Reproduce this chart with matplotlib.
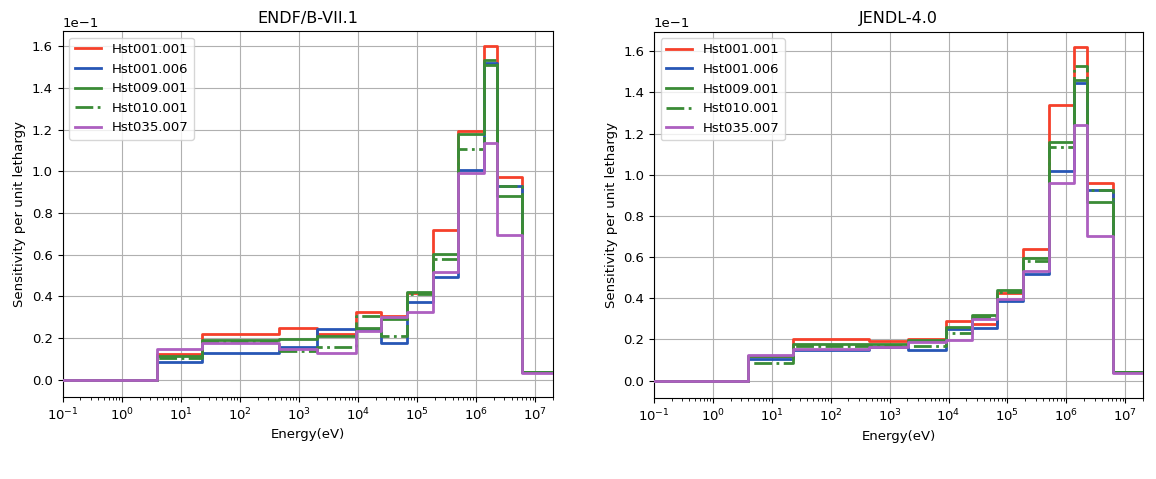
import matplotlib
matplotlib.use("Agg")
import matplotlib.pyplot as plt

# energy group boundaries (eV)
edges = [0.1, 4.0, 22.6, 454.0, 2035.0, 9120.0, 24800.0, 67400.0,
         183000.0, 498000.0, 1350000.0, 2230000.0, 6070000.0, 20000000.0]

labels = ["Hst001.001", "Hst001.006", "Hst009.001", "Hst010.001", "Hst035.007"]

# ENDF/B-VII.1 sensitivities per unit lethargy
endf_001_001 = [0, 0.0122, 0.0220, 0.0250, 0.0220, 0.0324, 0.0305, 0.0415, 0.0718, 0.1194, 0.1600, 0.0974, 0.0040]
endf_001_006 = [0, 0.0088, 0.0131, 0.0160, 0.0243, 0.0243, 0.0176, 0.0372, 0.0495, 0.1006, 0.1517, 0.0931, 0.0040]
endf_009_001 = [0, 0.0115, 0.0190, 0.0195, 0.0210, 0.0247, 0.0290, 0.0423, 0.0602, 0.1180, 0.1509, 0.0883, 0.0040]
endf_010_001 = [0, 0.0104, 0.0188, 0.0140, 0.0160, 0.0308, 0.0210, 0.0410, 0.0580, 0.1107, 0.1533, 0.0930, 0.0040]
endf_035_007 = [0, 0.0148, 0.0176, 0.0150, 0.0130, 0.0235, 0.0303, 0.0324, 0.0516, 0.0993, 0.1134, 0.0695, 0.0035]

# JENDL-4.0 sensitivities per unit lethargy
jendl_001_001 = [0, 0.0120, 0.0200, 0.0190, 0.0203, 0.0287, 0.0276, 0.0426, 0.0640, 0.1337, 0.1620, 0.0961, 0.0040]
jendl_001_006 = [0, 0.0105, 0.0149, 0.0165, 0.0149, 0.0250, 0.0254, 0.0384, 0.0519, 0.1016, 0.1446, 0.0927, 0.0040]
jendl_009_001 = [0, 0.0118, 0.0178, 0.0178, 0.0198, 0.0259, 0.0319, 0.0440, 0.0596, 0.1159, 0.1462, 0.0867, 0.0040]
jendl_010_001 = [0, 0.0084, 0.0170, 0.0170, 0.0167, 0.0230, 0.0310, 0.0430, 0.0580, 0.1134, 0.1528, 0.0927, 0.0040]
jendl_035_007 = [0, 0.0126, 0.0154, 0.0165, 0.0186, 0.0198, 0.0300, 0.0397, 0.0532, 0.0961, 0.1240, 0.0702, 0.0035]

colors = ["#f5402a", "#2756b5", "#3a8b36", "#3a8b36", "#ad5fc0"]
styles = ["-", "-", "-", "-.", "-"]


def draw_panel(ax, series, title, ylim):
    for vals, lab, c, ls in zip(series, labels, colors, styles):
        # repeat last value so the final group reaches the upper edge
        ax.step(edges, list(vals) + [vals[-1]], where="post", color=c,
                linestyle=ls, linewidth=2.0, label=lab, zorder=3)
    ax.set_xscale("log")
    ax.set_xlim(0.1, 2e7)
    ax.set_ylim(*ylim)
    ax.set_xticks([10.0 ** k for k in range(-1, 8)])
    ax.ticklabel_format(axis="y", style="sci", scilimits=(0, 0))
    ax.yaxis.get_offset_text().set_fontsize(9.5)
    ax.tick_params(labelsize=9.5)
    ax.set_axisbelow(True)
    ax.grid(True, color="#b0b0b0", linewidth=0.8)
    ax.set_title(title, fontsize=11.5)
    ax.set_xlabel("Energy(eV)", fontsize=9.5)
    ax.set_ylabel("Sensitivity per unit lethargy", fontsize=9.5)
    ax.legend(loc="upper left", fontsize=9.5)


fig = plt.figure(figsize=(11.56, 4.79), dpi=100)
ax1 = fig.add_axes([0.0542, 0.172, 0.4242, 0.763])
ax2 = fig.add_axes([0.5657, 0.169, 0.4231, 0.765])

draw_panel(ax1, [endf_001_001, endf_001_006, endf_009_001, endf_010_001, endf_035_007],
           "ENDF/B-VII.1", (-0.008, 0.1672))
draw_panel(ax2, [jendl_001_001, jendl_001_006, jendl_009_001, jendl_010_001, jendl_035_007],
           "JENDL-4.0", (-0.0085, 0.1695))

fig.savefig("out.png", dpi=100)
